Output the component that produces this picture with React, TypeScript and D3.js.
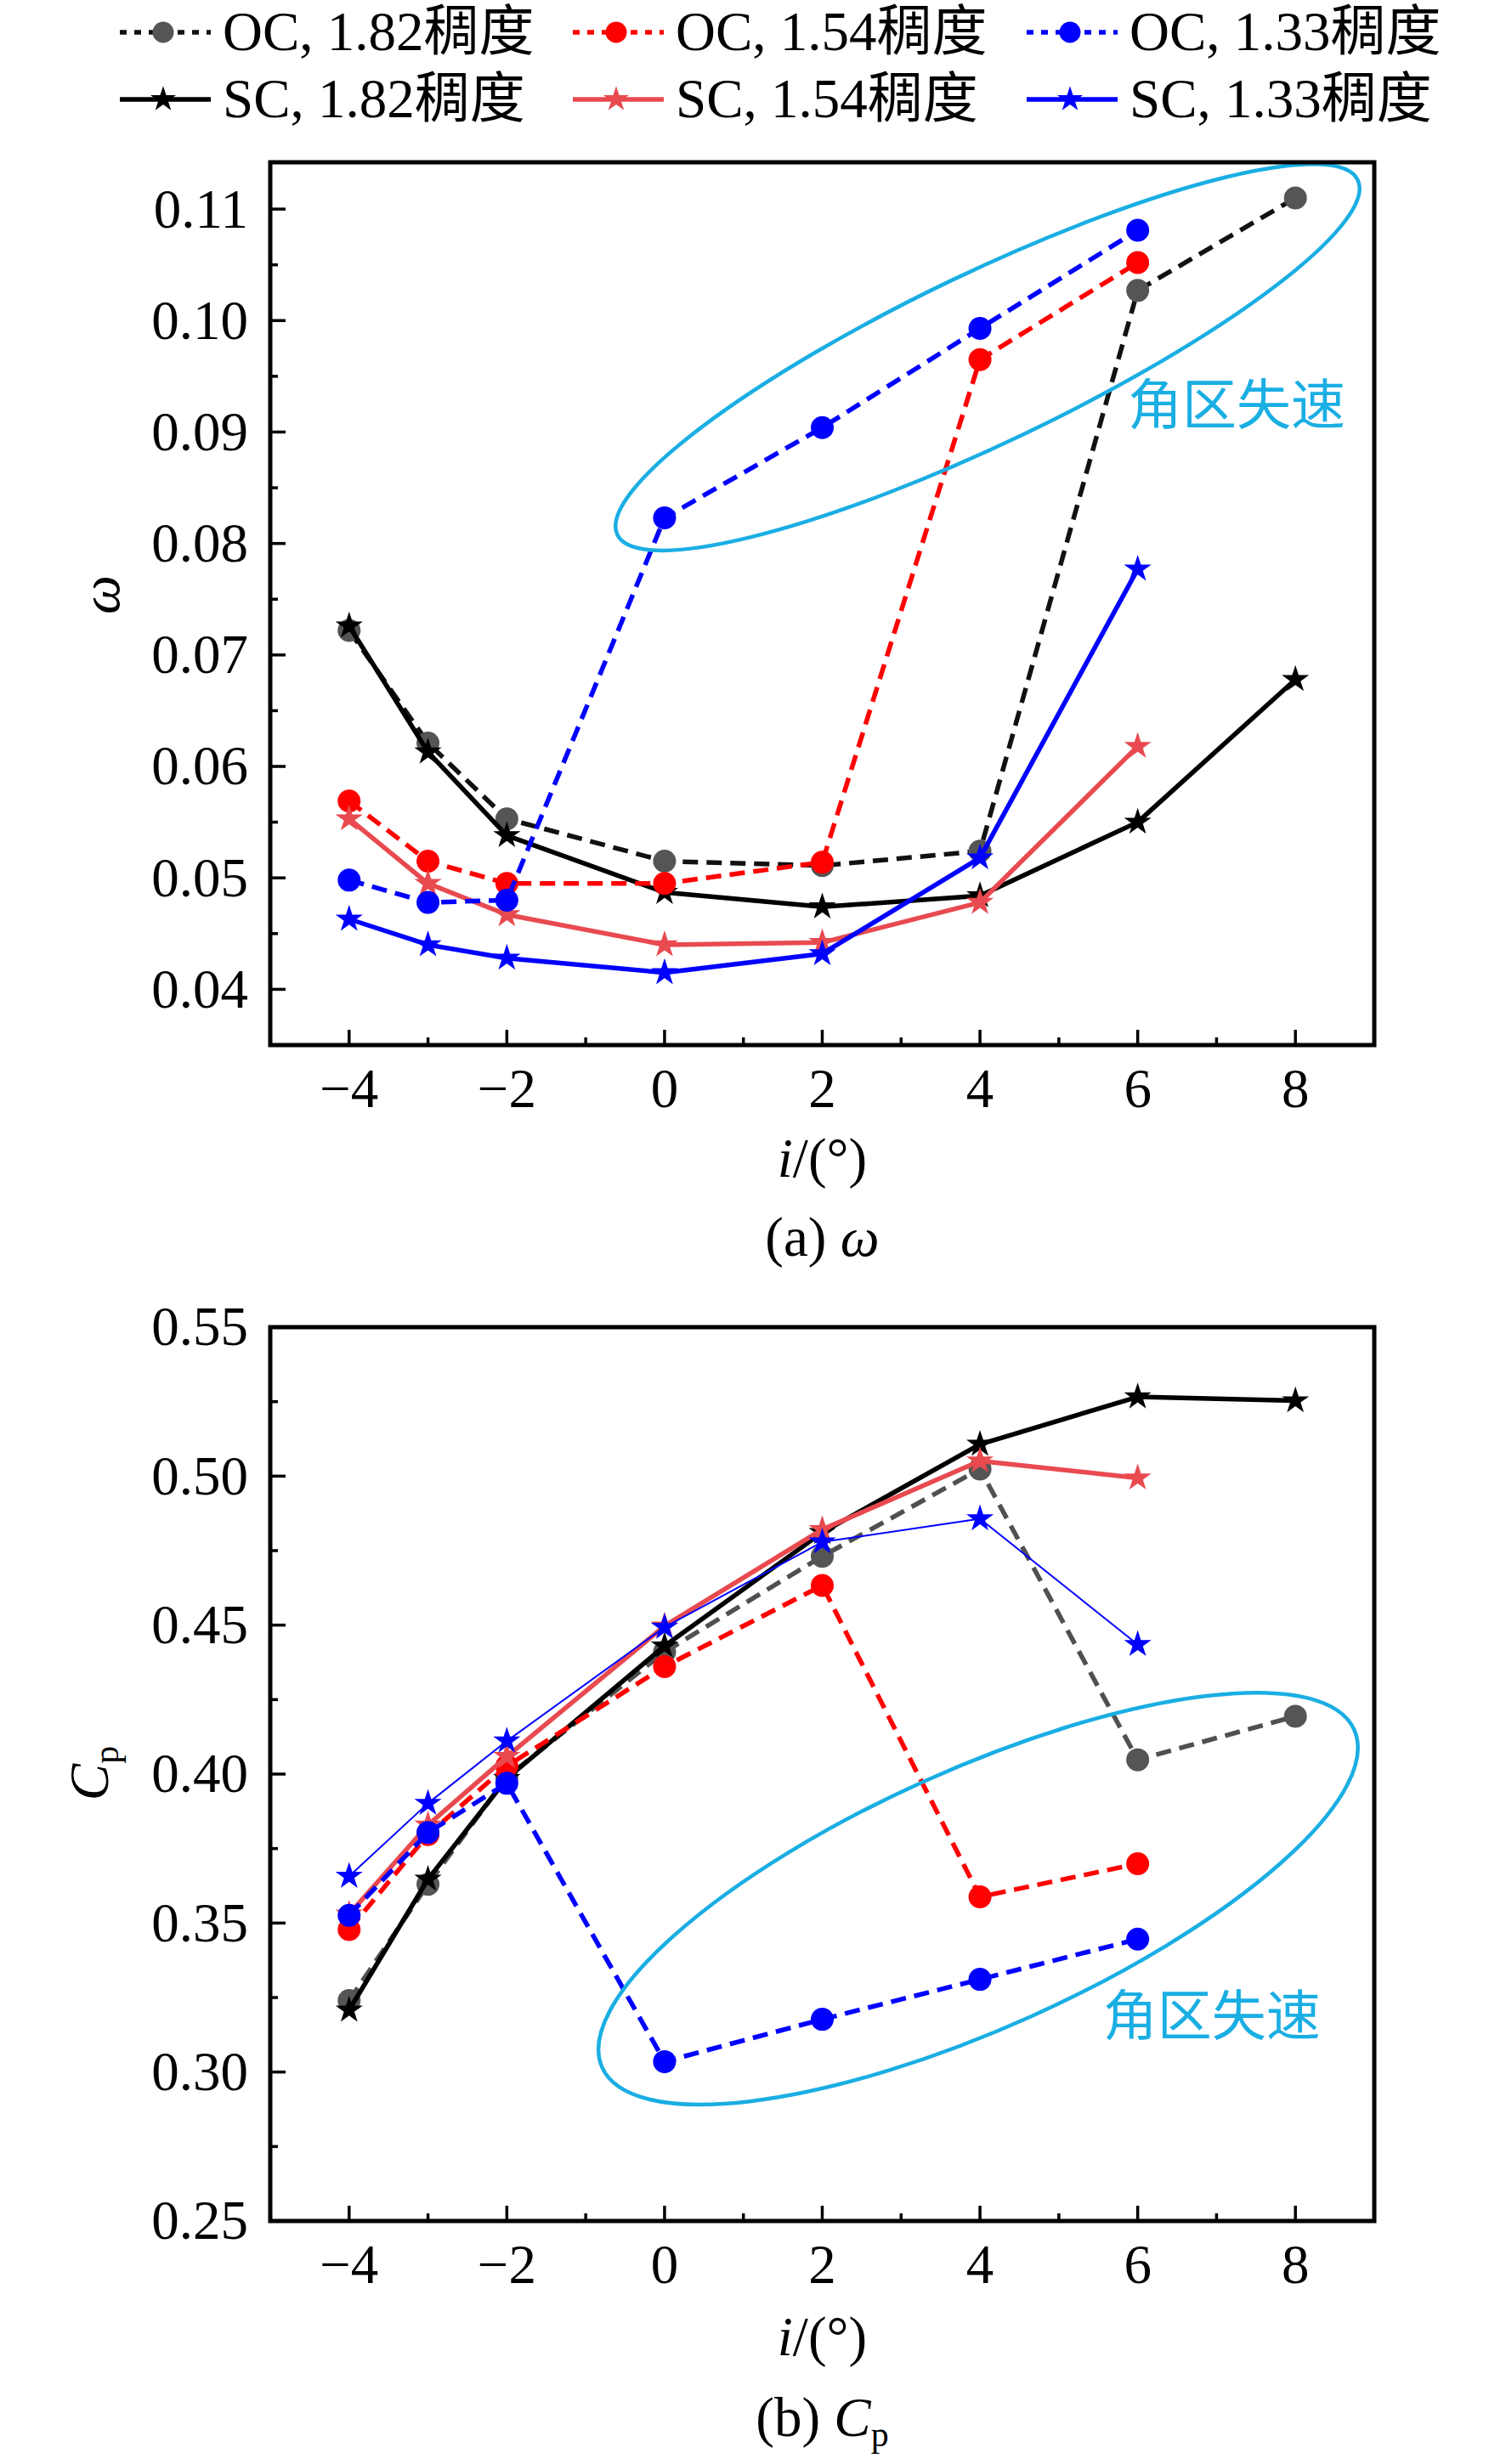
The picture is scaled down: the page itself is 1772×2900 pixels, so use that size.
import React from "react";
import * as d3 from "d3";

// ---------- data ----------
const incidence = [-4, -3, -2, 0, 2, 4, 6, 8];
const xTicksMajor = [-4, -2, 0, 2, 4, 6, 8];
const xTicksMinor = [-3, -1, 1, 3, 5, 7];

const omegaOC182 = [0.0722, 0.0621, 0.0553, 0.0515, 0.0511, 0.0524, 0.1027, 0.111];
const omegaOC154 = [0.0569, 0.0515, 0.0495, 0.0495, 0.0514, 0.0965, 0.1052];
const omegaOC133 = [0.0498, 0.0478, 0.048, 0.0823, 0.0904, 0.0993, 0.1081];
const omegaSC182 = [0.0726, 0.0613, 0.0538, 0.0487, 0.0474, 0.0484, 0.055, 0.0678];
const omegaSC154 = [0.0553, 0.0495, 0.0467, 0.044, 0.0442, 0.0478, 0.0618];
const omegaSC133 = [0.0463, 0.044, 0.0428, 0.0415, 0.0432, 0.0518, 0.0777];

const cpOC182 = [0.324, 0.363, 0.399, 0.441, 0.4731, 0.5024, 0.4048, 0.4194];
const cpOC154 = [0.3478, 0.3797, 0.4027, 0.4361, 0.4633, 0.3588, 0.3699];
const cpOC133 = [0.3526, 0.3804, 0.3969, 0.3035, 0.3177, 0.3311, 0.3446];
const cpSC182 = [0.3208, 0.3647, 0.3985, 0.443, 0.4811, 0.5107, 0.5266, 0.5253];
const cpSC154 = [0.353, 0.3829, 0.4059, 0.4497, 0.4821, 0.5051, 0.4994];
const cpSC133 = [0.3657, 0.3902, 0.4111, 0.4493, 0.4779, 0.4857, 0.4435];

const omegaTicks = [0.04, 0.05, 0.06, 0.07, 0.08, 0.09, 0.1, 0.11];
const omegaMinor = [0.045, 0.055, 0.065, 0.075, 0.085, 0.095, 0.105];
const cpTicks = [0.25, 0.3, 0.35, 0.4, 0.45, 0.5, 0.55];
const cpMinor = [0.275, 0.325, 0.375, 0.425, 0.475, 0.525];

const legendLabels = [
  "OC, 1.82稠度", "OC, 1.54稠度", "OC, 1.33稠度",
  "SC, 1.82稠度", "SC, 1.54稠度", "SC, 1.33稠度",
];

// ---------- styles ----------
const W = 1772;
const H = 2900;
const FONT = "'Liberation Serif', 'Times New Roman', 'Noto Sans CJK SC', serif";
const CYAN = "#1aaee3";
const BLUE = "#0000ff";
const RED = "#ff0000";
const LRED = "#e84a4f";

type Series = { values: number[]; color: string; marker: "circle" | "star"; dashed: boolean; width: number; markerColor: string };

const xScale = d3.scaleLinear().domain([-5, 9]).range([318, 1617]);

function Panel(props: {
  top: number; bottom: number; domain: [number, number];
  ticks: number[]; minor: number[]; fmt: (v: number) => string;
  series: Series[];
  ellipse: { cx: number; cy: number; rx: number; ry: number; rot: number };
  note: { x: number; y: number };
}) {
  const { top, bottom, domain, ticks, minor, fmt, series, ellipse, note } = props;
  const y = d3.scaleLinear().domain(domain).range([bottom, top]);
  const left = xScale.range()[0];
  const right = xScale.range()[1];
  const line = d3.line<[number, number]>().x((d) => xScale(d[0])).y((d) => y(d[1]));
  const star = d3.symbol().type(d3.symbolStar).size(320)();
  return (
    <g>
      {/* ticks */}
      {xTicksMajor.map((t) => (
        <line key={"xM" + t} x1={xScale(t)} x2={xScale(t)} y1={bottom} y2={bottom - 18} stroke="#000" strokeWidth={3.5} />
      ))}
      {xTicksMinor.map((t) => (
        <line key={"xm" + t} x1={xScale(t)} x2={xScale(t)} y1={bottom} y2={bottom - 9} stroke="#000" strokeWidth={3.5} />
      ))}
      {ticks.map((t) => (
        <line key={"yM" + t} x1={left} x2={left + 18} y1={y(t)} y2={y(t)} stroke="#000" strokeWidth={3.5} />
      ))}
      {minor.map((t) => (
        <line key={"ym" + t} x1={left} x2={left + 9} y1={y(t)} y2={y(t)} stroke="#000" strokeWidth={3.5} />
      ))}
      {ticks.map((t) => (
        <text key={"yl" + t} x={292} y={y(t)} dy="0.33em" textAnchor="end" fontSize={65} fontFamily={FONT}>
          {fmt(t)}
        </text>
      ))}
      {xTicksMajor.map((t) => (
        <text key={"xl" + t} x={xScale(t)} y={bottom + 73} textAnchor="middle" fontSize={65} fontFamily={FONT}>
          {t < 0 ? "\u2212" + Math.abs(t) : String(t)}
        </text>
      ))}
      {/* series */}
      {series.map((s, i) => {
        const pts: [number, number][] = s.values.map((v, j) => [incidence[j], v]);
        return (
          <g key={"s" + i}>
            <path d={line(pts) || ""} fill="none" stroke={s.color} strokeWidth={s.width}
              strokeDasharray={s.dashed ? "18,10" : undefined} strokeLinejoin="round" />
            {pts.map((p, j) =>
              s.marker === "circle" ? (
                <circle key={j} cx={xScale(p[0])} cy={y(p[1])} r={13.5} fill={s.markerColor} />
              ) : (
                <path key={j} d={star || ""} transform={`translate(${xScale(p[0])},${y(p[1])})`} fill={s.markerColor} />
              )
            )}
          </g>
        );
      })}
      {/* annotation */}
      <ellipse cx={xScale(ellipse.cx)} cy={y(ellipse.cy)} rx={ellipse.rx} ry={ellipse.ry}
        transform={`rotate(${ellipse.rot},${xScale(ellipse.cx)},${y(ellipse.cy)})`}
        fill="none" stroke={CYAN} strokeWidth={4.5} />
      <text x={xScale(note.x)} y={y(note.y)} fontSize={64} fill={CYAN} fontFamily={FONT}>角区失速</text>
      {/* frame */}
      <rect x={left} y={top} width={right - left} height={bottom - top} fill="none" stroke="#000" strokeWidth={5} />
    </g>
  );
}

function Legend() {
  const xs = [141, 674, 1208];
  const rows = [38, 117];
  const cols = ["#111", RED, BLUE];
  const mcols = ["#555", RED, BLUE];
  const scCols = ["#000", LRED, BLUE];
  const star = d3.symbol().type(d3.symbolStar).size(280)();
  return (
    <g>
      {xs.map((x, i) => (
        <g key={"oc" + i}>
          <line x1={x} x2={x + 107} y1={rows[0]} y2={rows[0]} stroke={cols[i]} strokeWidth={5.5} strokeDasharray="8,9" />
          <circle cx={x + 51} cy={rows[0]} r={12.5} fill={mcols[i]} />
          <text x={x + 121} y={rows[0] + 21} fontSize={65} fontFamily={FONT}>{legendLabels[i]}</text>
        </g>
      ))}
      {xs.map((x, i) => (
        <g key={"sc" + i}>
          <line x1={x} x2={x + 107} y1={rows[1]} y2={rows[1]} stroke={scCols[i]} strokeWidth={5.5} />
          <path d={star || ""} transform={`translate(${x + 51},${rows[1]})`} fill={scCols[i]} />
          <text x={x + 121} y={rows[1] + 21} fontSize={65} fontFamily={FONT}>{legendLabels[i + 3]}</text>
        </g>
      ))}
    </g>
  );
}

export default function App() {
  const topSeries: Series[] = [
    { values: omegaOC182, color: "#111", marker: "circle", dashed: true, width: 5.5, markerColor: "#555" },
    { values: omegaSC182, color: "#000", marker: "star", dashed: false, width: 5.5, markerColor: "#000" },
    { values: omegaOC154, color: RED, marker: "circle", dashed: true, width: 5.5, markerColor: RED },
    { values: omegaSC154, color: LRED, marker: "star", dashed: false, width: 5.5, markerColor: LRED },
    { values: omegaOC133, color: BLUE, marker: "circle", dashed: true, width: 5.5, markerColor: BLUE },
    { values: omegaSC133, color: BLUE, marker: "star", dashed: false, width: 5.5, markerColor: BLUE },
  ];
  const botSeries: Series[] = [
    { values: cpOC182, color: "#505050", marker: "circle", dashed: true, width: 5.5, markerColor: "#555" },
    { values: cpSC182, color: "#000", marker: "star", dashed: false, width: 5.5, markerColor: "#000" },
    { values: cpOC154, color: RED, marker: "circle", dashed: true, width: 5.5, markerColor: RED },
    { values: cpSC154, color: LRED, marker: "star", dashed: false, width: 5.5, markerColor: LRED },
    { values: cpOC133, color: BLUE, marker: "circle", dashed: true, width: 5.5, markerColor: BLUE },
    { values: cpSC133, color: BLUE, marker: "star", dashed: false, width: 2, markerColor: BLUE },
  ];
  const cx = (xScale.range()[0] + xScale.range()[1]) / 2;
  return (
    <svg width={W} height={H} viewBox={`0 0 ${W} ${H}`} style={{ position: "absolute", left: 0, top: 0, background: "#fff" }}>
      <rect width={W} height={H} fill="#fff" />
      <Legend />
      <Panel top={191} bottom={1230} domain={[0.035, 0.1142]} ticks={omegaTicks} minor={omegaMinor}
        fmt={(v) => v.toFixed(2)} series={topSeries}
        ellipse={{ cx: 4.096, cy: 0.0967, rx: 483, ry: 100, rot: -25.6 }}
        note={{ x: 5.874, y: 0.0907 }} />
      <Panel top={1562} bottom={2614} domain={[0.25, 0.55]} ticks={cpTicks} minor={cpMinor}
        fmt={(v) => v.toFixed(2)} series={botSeries}
        ellipse={{ cx: 3.977, cy: 0.3582, rx: 485, ry: 152, rot: -24.2 }}
        note={{ x: 5.56, y: 0.3125 }} />
      {/* axis titles */}
      <text x={cx} y={1385} textAnchor="middle" fontSize={65} fontFamily={FONT}>
        <tspan fontStyle="italic">i</tspan>/(°)
      </text>
      <text x={cx} y={1478} textAnchor="middle" fontSize={65} fontFamily={FONT}>
        (a) <tspan fontStyle="italic">ω</tspan>
      </text>
      <text transform="translate(140,700) rotate(-90)" textAnchor="middle" fontSize={65} fontFamily={FONT} fontStyle="italic">ω</text>
      <text x={cx} y={2772} textAnchor="middle" fontSize={65} fontFamily={FONT}>
        <tspan fontStyle="italic">i</tspan>/(°)
      </text>
      <text x={cx} y={2867} textAnchor="middle" fontSize={65} fontFamily={FONT}>
        (b) <tspan fontStyle="italic">C</tspan><tspan fontSize={42} dy={12}>p</tspan>
      </text>
      <text transform="translate(127,2087) rotate(-90)" textAnchor="middle" fontSize={65} fontFamily={FONT}>
        <tspan fontStyle="italic">C</tspan><tspan fontSize={42} dy={12}>p</tspan>
      </text>
    </svg>
  );
}
